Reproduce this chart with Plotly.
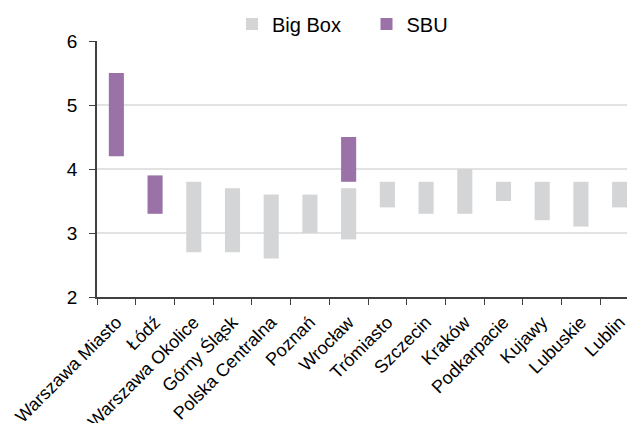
import plotly.graph_objects as go

categories = ["Warszawa Miasto", "Łódź", "Warszawa Okolice", "Górny Śląsk", "Polska Centralna",
              "Poznań", "Wrocław", "Trómiasto", "Szczecin", "Kraków", "Podkarpacie",
              "Kujawy", "Lubuskie", "Lublin"]

bigbox_low = [None, None, 2.7, 2.7, 2.6, 3.0, 2.9, 3.4, 3.3, 3.3, 3.5, 3.2, 3.1, 3.4]
bigbox_high = [None, None, 3.8, 3.7, 3.6, 3.6, 3.7, 3.8, 3.8, 4.0, 3.8, 3.8, 3.8, 3.8]
sbu_low = [4.2, 3.3, None, None, None, None, 3.8, None, None, None, None, None, None, None]
sbu_high = [5.5, 3.9, None, None, None, None, 4.5, None, None, None, None, None, None, None]

def span(lo, hi):
    return [None if a is None else round(b - a, 3) for a, b in zip(lo, hi)]

fig = go.Figure()
fig.add_trace(go.Bar(name="Big Box", x=categories, y=span(bigbox_low, bigbox_high),
                     base=bigbox_low, marker_color="#D4D5D7", width=0.39,
                     marker_line_width=0, legend="legend"))
fig.add_trace(go.Bar(name="SBU", x=categories, y=span(sbu_low, sbu_high),
                     base=sbu_low, marker_color="#9B72A8", width=0.39,
                     marker_line_width=0, legend="legend2"))

legend_common = dict(orientation="h", xanchor="left", y=1.066, yanchor="middle",
                     font=dict(size=20), itemwidth=30, bgcolor="rgba(0,0,0,0)")

fig.update_layout(
    width=627, height=423,
    margin=dict(l=97, r=0, t=41, b=126),
    barmode="overlay",
    plot_bgcolor="white", paper_bgcolor="white",
    font=dict(family="Liberation Sans, Arial, sans-serif", color="#000000"),
    legend=dict(x=0.2547, **legend_common),
    legend2=dict(x=0.5085, **legend_common),
    showlegend=True,
)
fig.update_xaxes(
    type="category", range=[-0.5, 13.19], automargin=False,
    showline=True, linecolor="#404040", linewidth=1.5,
    ticks="outside", ticklen=6, tickcolor="#404040",
    tickson="boundaries", tickangle=-45, ticklabelstandoff=6,
    tickfont=dict(size=18), showgrid=False,
)
fig.update_yaxes(
    range=[2, 6], dtick=1, automargin=False,
    showline=True, linecolor="#404040", linewidth=1.5,
    ticks="outside", ticklen=6, tickcolor="#404040",
    tickfont=dict(size=19), ticklabelstandoff=8,
    showgrid=True, gridcolor="#E2E2E2", gridwidth=1.5,
    zeroline=False,
)

fig.write_html("out.html")
